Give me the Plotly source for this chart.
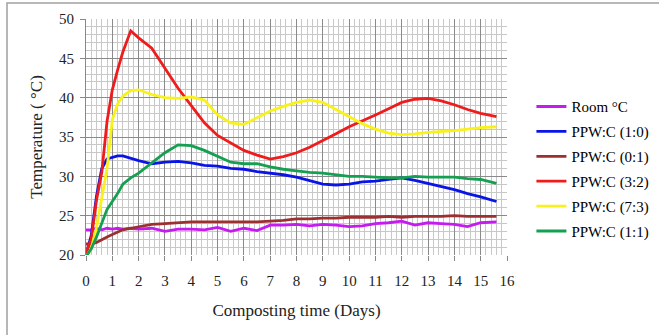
import plotly.graph_objects as go

DAYS = [0, 0.2, 0.4, 0.6, 0.8, 1.0, 1.2, 1.4, 1.7, 2.0, 2.5, 3.0, 3.5, 4.0, 4.5, 5.0,
        5.5, 6.0, 6.5, 7.0, 7.5, 8.0, 8.5, 9.0, 9.5, 10.0, 10.5, 11.0, 11.5, 12.0,
        12.5, 13.0, 13.5, 14.0, 14.5, 15.0, 15.6]

ROOM = [23.2, 23.2, 23.4, 23.2, 23.4, 23.3, 23.4, 23.3, 23.4, 23.3, 23.4, 23.0, 23.3,
        23.3, 23.2, 23.5, 23.0, 23.4, 23.1, 23.8, 23.8, 23.9, 23.7, 23.9, 23.8, 23.6,
        23.7, 24.0, 24.1, 24.3, 23.8, 24.1, 24.0, 23.9, 23.6, 24.1, 24.2]
PPW_1_0 = [20.0, 22.5, 27.5, 31.0, 32.2, 32.4, 32.6, 32.6, 32.3, 32.0, 31.6, 31.8, 31.9,
           31.7, 31.4, 31.3, 31.0, 30.9, 30.6, 30.4, 30.2, 29.9, 29.4, 29.0, 28.9, 29.0,
           29.3, 29.4, 29.6, 29.8, 29.5, 29.1, 28.7, 28.3, 27.8, 27.4, 26.8]
PPW_0_1 = [21.4, 21.4, 21.6, 22.0, 22.3, 22.6, 22.9, 23.2, 23.4, 23.6, 23.9, 24.0, 24.1,
           24.2, 24.2, 24.2, 24.2, 24.2, 24.2, 24.3, 24.4, 24.6, 24.6, 24.7, 24.7, 24.8,
           24.8, 24.8, 24.9, 24.8, 24.9, 24.9, 24.9, 25.0, 24.9, 24.9, 24.9]
PPW_3_2 = [20.3, 22.0, 27.0, 30.5, 37.0, 41.0, 43.5, 45.8, 48.5, 47.6, 46.3, 43.8, 41.2,
           39.0, 36.8, 35.2, 34.2, 33.3, 32.7, 32.2, 32.5, 33.0, 33.7, 34.5, 35.4, 36.3,
           37.0, 37.8, 38.6, 39.4, 39.8, 39.9, 39.6, 39.1, 38.5, 38.0, 37.6]
PPW_7_3 = [19.8, 20.8, 23.5, 27.0, 31.0, 37.2, 39.2, 40.2, 40.9, 41.0, 40.4, 40.0, 39.9,
           40.1, 39.7, 37.8, 36.8, 36.6, 37.4, 38.3, 38.9, 39.4, 39.7, 39.4, 38.5, 37.6,
           36.7, 36.0, 35.5, 35.3, 35.4, 35.6, 35.7, 35.8, 36.0, 36.2, 36.3]
PPW_1_1 = [19.8, 20.8, 22.3, 24.0, 25.8, 26.8, 27.8, 29.0, 29.8, 30.4, 31.7, 33.0, 34.0,
           33.9, 33.3, 32.5, 31.8, 31.6, 31.6, 31.2, 30.9, 30.7, 30.5, 30.4, 30.2, 30.0,
           30.0, 29.9, 29.8, 29.8, 30.0, 29.9, 29.9, 29.9, 29.7, 29.6, 29.1]

NAMES = ["Room °C", "PPW:C (1:0)", "PPW:C (0:1)", "PPW:C (3:2)", "PPW:C (7:3)", "PPW:C (1:1)"]
SERIES = [ROOM, PPW_1_0, PPW_0_1, PPW_3_2, PPW_7_3, PPW_1_1]
COLORS = ["#c61bf0", "#0a14e6", "#9c3030", "#ee1c1c", "#f8f21a", "#14a050"]

FONT = "Liberation Serif, Times New Roman, serif"

fig = go.Figure()
for i, (name, vals, col) in enumerate(zip(NAMES, SERIES, COLORS)):
    fig.add_trace(go.Scatter(x=DAYS, y=vals, mode="lines", name=name,
                             legendgroup=f"g{i}",
                             line=dict(color=col, width=2.8)))

fig.update_layout(
    width=659, height=335,
    margin=dict(l=86, r=152, t=19, b=80, autoexpand=False),
    paper_bgcolor="white", plot_bgcolor="white",
    font=dict(family=FONT, size=15, color="#222222"),
    legend=dict(x=1.058, xanchor="left", y=0.698, yanchor="top",
                tracegroupgap=2.4, font=dict(family=FONT, size=15, color="#000000"),
                itemwidth=30, bgcolor="rgba(0,0,0,0)"),
    showlegend=True,
)
fig.update_xaxes(
    range=[0, 16], dtick=1, tick0=0, ticks="outside", ticklen=5, tickcolor="#888888",
    showgrid=True, gridcolor="#8a8a8a", gridwidth=1,
    minor=dict(dtick=0.2, showgrid=True, gridcolor="#c8c8c8", gridwidth=1, ticks=""),
    showline=False, zeroline=False, automargin=False, ticklabelstandoff=7,
    tickfont=dict(family=FONT, size=15, color="#222222"),
    title=dict(text="Composting time (Days)", standoff=16,
               font=dict(family=FONT, size=17, color="#222222")),
)
fig.update_yaxes(
    range=[20, 50], dtick=5, tick0=20, ticks="outside", ticklen=5, tickcolor="#888888",
    showgrid=True, gridcolor="#8a8a8a", gridwidth=1,
    minor=dict(dtick=1, showgrid=True, gridcolor="#c8c8c8", gridwidth=1, ticks=""),
    showline=True, linecolor="#888888", linewidth=1, zeroline=False, automargin=False,
    ticklabelstandoff=3,
    tickfont=dict(family=FONT, size=15, color="#222222"),
    title=dict(text="Temperature ( °C)", standoff=12,
               font=dict(family=FONT, size=17, color="#222222")),
)
fig.add_shape(type="rect", xref="paper", yref="paper",
              x0=(7 - 86) / 421, x1=1.6, y0=-0.4, y1=(255 - 3) / 236,
              line=dict(color="#a0a0a0", width=1.5), layer="below")

fig.write_html("out.html", config={"displayModeBar": False},
               post_script="document.body.style.margin='0px';document.body.style.overflow='hidden';")
